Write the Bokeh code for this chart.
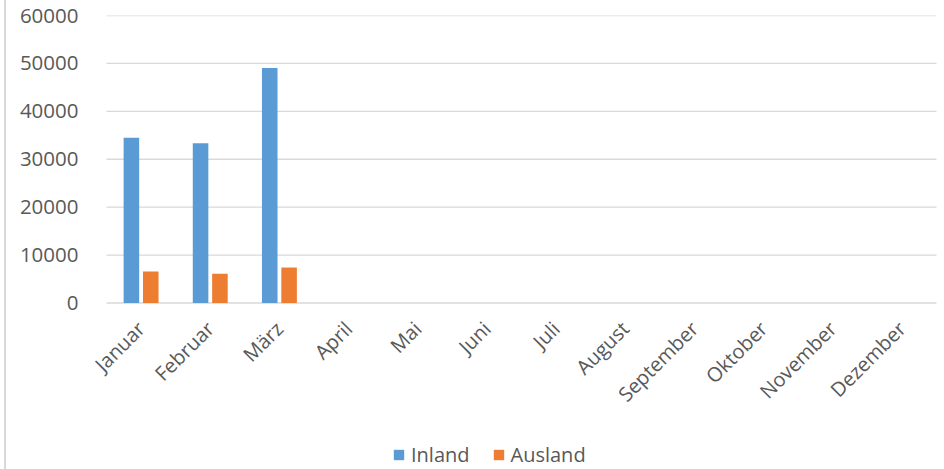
import math
from bokeh.plotting import figure
from bokeh.models import (ColumnDataSource, Legend, LegendItem, Range1d,
                          LinearAxis, FixedTicker)
from bokeh.embed import file_html
from bokeh.resources import INLINE

months = ["Januar", "Februar", "März", "April", "Mai", "Juni", "Juli",
          "August", "September", "Oktober", "November", "Dezember"]
inland = [34500, 33350, 49050, 0, 0, 0, 0, 0, 0, 0, 0, 0]
ausland = [6600, 6100, 7400, 0, 0, 0, 0, 0, 0, 0, 0, 0]
y_ticks = [0, 10000, 20000, 30000, 40000, 50000, 60000]

BLUE = "#5b9bd5"
ORANGE = "#ed7d31"
TXT = "#595959"
GRID = "#d9d9d9"
FONT = "Open Sans"

# ---- layout constants (page pixels) ----
W, H = 944, 469
PAGE_OFFSET = 6          # 4px margin + 2px border line on the left
FRAME_L = 88             # frame starts left of the category area so labels are not clipped
CAT_L, CAT_R = 106, 936  # category area
TOP, ZERO_Y = 15, 302.5

n = len(months)
idx = list(range(n))
px_per_cat = (CAT_R - CAT_L) / n
x_start = -0.5 - (CAT_L - FRAME_L) / px_per_cat
x_end = n - 0.5 + (W - CAT_R) / px_per_cat
y_max = max(y_ticks)
y_min = -(H - ZERO_Y) * y_max / (ZERO_Y - TOP)

src = ColumnDataSource(dict(x=idx, month=months, inland=inland, ausland=ausland,
                            xi=[i - 0.14 for i in idx], xa=[i + 0.14 for i in idx]))
grid_src = ColumnDataSource(dict(y=y_ticks, x0=[-0.5] * len(y_ticks),
                                 x1=[n - 0.5] * len(y_ticks)))

p = figure(width=W - PAGE_OFFSET, height=H,
           x_range=Range1d(x_start, x_end), y_range=Range1d(y_min, y_max),
           output_backend="svg", toolbar_location=None, x_axis_location=None,
           min_border_left=FRAME_L - PAGE_OFFSET, min_border_right=0,
           min_border_top=TOP, min_border_bottom=0)
p.outline_line_color = None
p.styles = {"margin-left": "4px", "border-left": "2px solid #d9d9d9"}
p.xgrid.grid_line_color = None
p.ygrid.grid_line_color = None

# horizontal gridlines across the category area
p.segment(x0="x0", y0="y", x1="x1", y1="y", source=grid_src,
          line_color=GRID, line_width=1.3)

r1 = p.vbar(x="xi", top="inland", width=0.225, source=src,
            color=BLUE, line_color=None)
r2 = p.vbar(x="xa", top="ausland", width=0.225, source=src,
            color=ORANGE, line_color=None)

p.yaxis.ticker = y_ticks
p.yaxis.axis_line_color = None
p.yaxis.major_tick_line_color = None
p.yaxis.minor_tick_line_color = None
p.yaxis.major_label_text_font = FONT
p.yaxis.major_label_text_font_size = "20.5px"
p.yaxis.major_label_text_color = TXT
p.yaxis.major_label_standoff = 4

xaxis = LinearAxis(fixed_location=0, ticker=FixedTicker(ticks=idx),
                   major_label_overrides={i: m for i, m in zip(idx, months)})
xaxis.axis_line_color = None
xaxis.major_tick_line_color = None
xaxis.minor_tick_line_color = None
xaxis.major_label_orientation = math.pi / 4
xaxis.major_label_text_font = FONT
xaxis.major_label_text_font_size = "20px"
xaxis.major_label_text_color = TXT
xaxis.major_label_standoff = 16
p.add_layout(xaxis, "below")

legend = Legend(items=[LegendItem(label="Inland", renderers=[r1]),
                       LegendItem(label="Ausland", renderers=[r2])],
                location=(392 - FRAME_L, 1), orientation="horizontal",
                label_text_font=FONT, label_text_font_size="20px",
                label_text_color=TXT, glyph_width=13, glyph_height=13,
                label_standoff=6, spacing=22, padding=0, margin=0,
                border_line_color=None, background_fill_alpha=0)
p.add_layout(legend, "center")

open("out.html", "w").write(file_html(p, INLINE))
